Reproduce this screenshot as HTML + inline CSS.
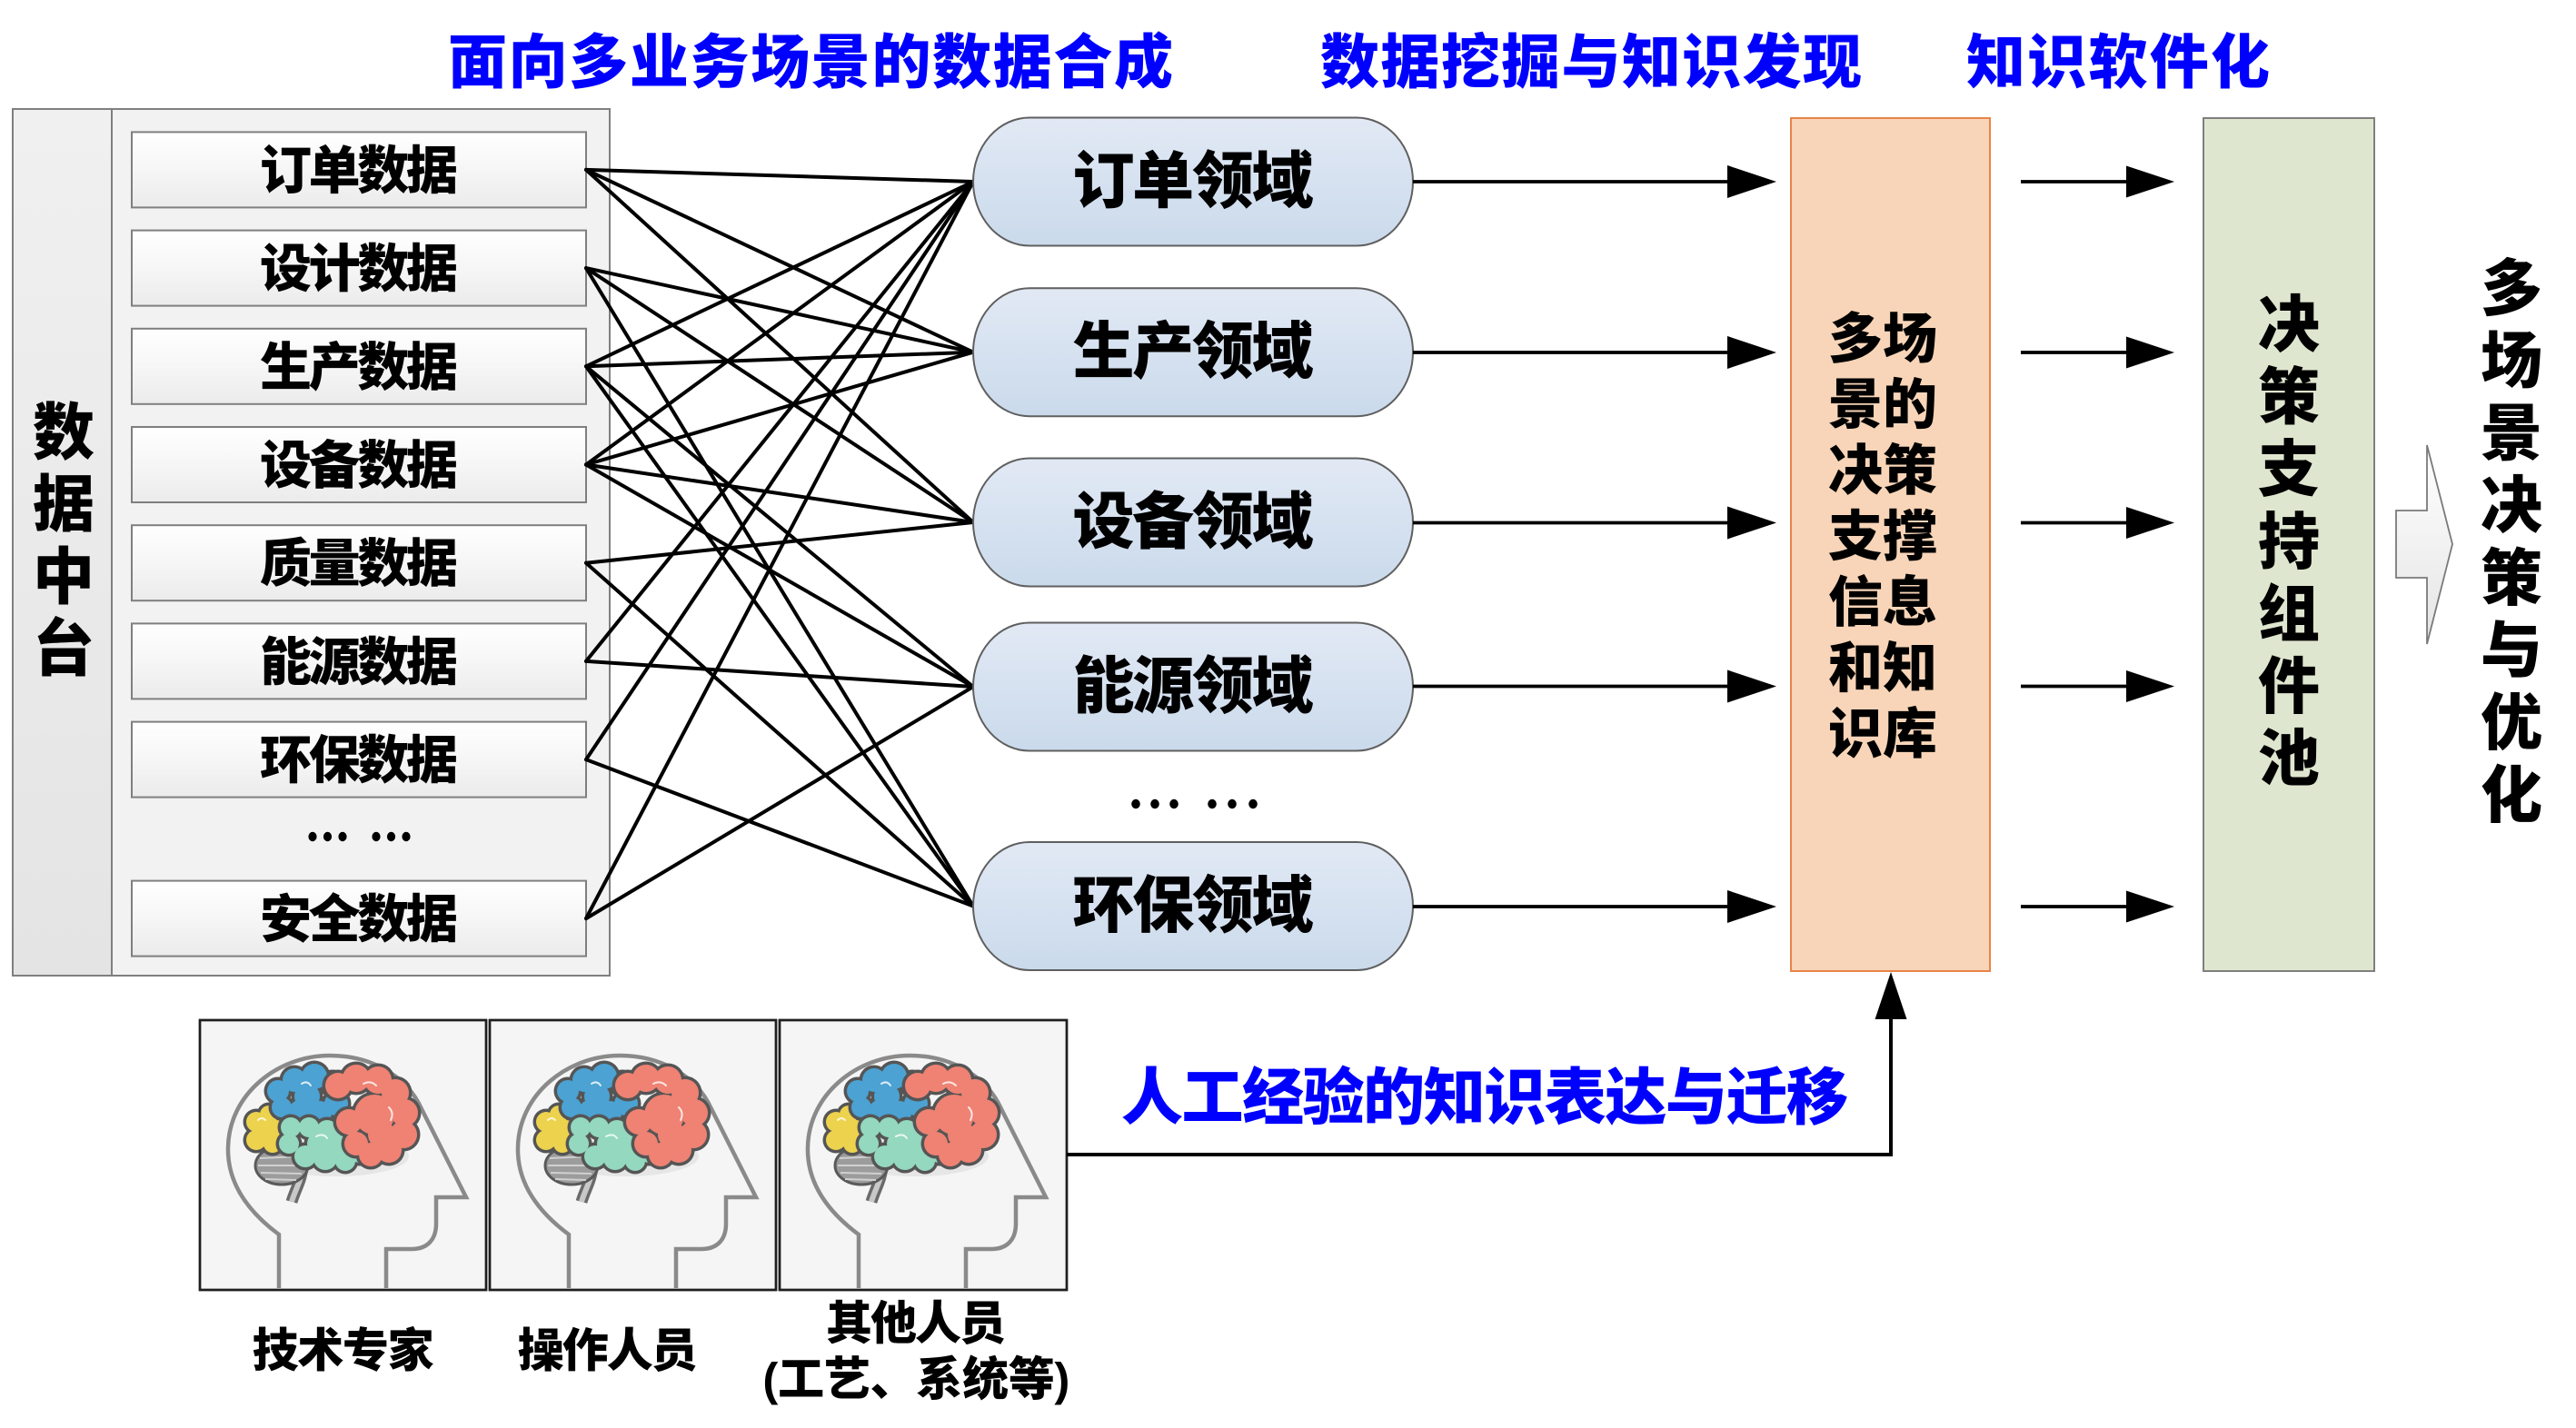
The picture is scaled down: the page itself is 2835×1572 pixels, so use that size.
<!DOCTYPE html>
<html><head><meta charset="utf-8"><style>
html,body{margin:0;padding:0;background:#fff;}
svg{display:block;}
text{font-family:"Liberation Sans","Noto Sans CJK SC",sans-serif;font-weight:900;}
</style></head><body>
<svg width="2835" height="1572" viewBox="0 0 2835 1572" xmlns="http://www.w3.org/2000/svg">
<defs>
<linearGradient id="gBox" x1="0" y1="0" x2="0" y2="1"><stop offset="0" stop-color="#ffffff"/><stop offset="0.5" stop-color="#f6f6f6"/><stop offset="1" stop-color="#ebebeb"/></linearGradient>
<linearGradient id="gCol" x1="0" y1="0" x2="0" y2="1"><stop offset="0" stop-color="#f0f0f0"/><stop offset="1" stop-color="#e4e4e4"/></linearGradient>
<linearGradient id="gCap" x1="0" y1="0" x2="0" y2="1"><stop offset="0" stop-color="#e2e9f5"/><stop offset="1" stop-color="#cadaeb"/></linearGradient>
<linearGradient id="gArr" x1="0" y1="0" x2="0" y2="1"><stop offset="0" stop-color="#ffffff"/><stop offset="1" stop-color="#e4e4e4"/></linearGradient>
<g id="brain">
  <path d="M87,295 L87,236 C52,210 30,178 31,140 C32,82 85,39 143,39 C190,39 224,62 240,90 L293,195 L260,195 L260,224 C260,242 250,252 233,252 L205,252 L205,295" fill="none" stroke="#8a8a8a" stroke-width="4.5"/>
  <ellipse cx="150" cy="150" rx="80" ry="22" fill="#e6e6e6"/>
  <path d="M113,158 C113,175 105,186 101,200" fill="none" stroke="#6a6a6a" stroke-width="13"/>
  <path d="M113,158 C113,175 105,186 101,200" fill="none" stroke="#c8c8c8" stroke-width="6"/>
  <ellipse cx="90" cy="160" rx="29" ry="21" fill="#9c9c9c" stroke="#5a5a5a" stroke-width="3"/>
  <path d="M66,152 L112,150 M64,160 L114,160 M67,168 L112,169 M72,175 L106,176" stroke="#d0d0d0" stroke-width="2" fill="none"/>
  <g fill="#555">
    <circle cx="62" cy="112" r="14.5"/><circle cx="76" cy="104" r="13.5"/><circle cx="84" cy="120" r="13.5"/><circle cx="62" cy="132" r="14.5"/><circle cx="80" cy="136" r="13.5"/><circle cx="70" cy="122" r="13.5"/>
  </g>
  <g fill="#EDD24E">
    <circle cx="62" cy="112" r="11"/><circle cx="76" cy="104" r="10"/><circle cx="84" cy="120" r="10"/><circle cx="62" cy="132" r="11"/><circle cx="80" cy="136" r="10"/><circle cx="70" cy="122" r="10"/>
  </g>
  <g fill="#555">
    <circle cx="86" cy="78" r="15.5"/><circle cx="104" cy="66" r="16.5"/><circle cx="126" cy="62" r="17.5"/><circle cx="146" cy="70" r="15.5"/><circle cx="150" cy="92" r="16.5"/><circle cx="132" cy="102" r="16.5"/><circle cx="110" cy="100" r="15.5"/><circle cx="90" cy="96" r="14.5"/><circle cx="118" cy="84" r="17.5"/>
  </g>
  <g fill="#4BA2D3">
    <circle cx="86" cy="78" r="12"/><circle cx="104" cy="66" r="13"/><circle cx="126" cy="62" r="14"/><circle cx="146" cy="70" r="12"/><circle cx="150" cy="92" r="13"/><circle cx="132" cy="102" r="13"/><circle cx="110" cy="100" r="12"/><circle cx="90" cy="96" r="11"/><circle cx="118" cy="84" r="14"/>
  </g>
  <g fill="#555">
    <circle cx="100" cy="118" r="14.5"/><circle cx="120" cy="118" r="14.5"/><circle cx="140" cy="122" r="15.5"/><circle cx="160" cy="130" r="15.5"/><circle cx="176" cy="145" r="15.5"/><circle cx="160" cy="155" r="14.5"/><circle cx="138" cy="152" r="16.5"/><circle cx="116" cy="150" r="15.5"/><circle cx="98" cy="136" r="14.5"/><circle cx="130" cy="136" r="15.5"/><circle cx="150" cy="140" r="15.5"/>
  </g>
  <g fill="#93D8BF">
    <circle cx="100" cy="118" r="11"/><circle cx="120" cy="118" r="11"/><circle cx="140" cy="122" r="12"/><circle cx="160" cy="130" r="12"/><circle cx="176" cy="145" r="12"/><circle cx="160" cy="155" r="11"/><circle cx="138" cy="152" r="13"/><circle cx="116" cy="150" r="12"/><circle cx="98" cy="136" r="11"/><circle cx="130" cy="136" r="12"/><circle cx="150" cy="140" r="12"/>
  </g>
  <g fill="#555">
    <circle cx="152" cy="72" r="17.5"/><circle cx="172" cy="64" r="18.5"/><circle cx="196" cy="66" r="18.5"/><circle cx="215" cy="80" r="18.5"/><circle cx="225" cy="102" r="18.5"/><circle cx="224" cy="126" r="18.5"/><circle cx="208" cy="143" r="17.5"/><circle cx="188" cy="148" r="16.5"/><circle cx="172" cy="136" r="16.5"/><circle cx="164" cy="112" r="17.5"/><circle cx="192" cy="104" r="25.5"/><circle cx="200" cy="126" r="18.5"/>
  </g>
  <g fill="#EF8273">
    <circle cx="152" cy="72" r="14"/><circle cx="172" cy="64" r="15"/><circle cx="196" cy="66" r="15"/><circle cx="215" cy="80" r="15"/><circle cx="225" cy="102" r="15"/><circle cx="224" cy="126" r="15"/><circle cx="208" cy="143" r="14"/><circle cx="188" cy="148" r="13"/><circle cx="172" cy="136" r="13"/><circle cx="164" cy="112" r="14"/><circle cx="192" cy="104" r="22"/><circle cx="200" cy="126" r="15"/>
  </g>
  <g fill="none" stroke="#ffffff" stroke-width="2" stroke-linecap="round" opacity="0.8">
    <path d="M180,70 q8,-4 14,2"/><path d="M208,96 q6,6 2,14"/><path d="M112,70 q6,-4 10,2"/><path d="M128,128 q8,-4 12,2"/><path d="M64,110 q4,-4 8,0"/>
  </g>
</g>
</defs>

<!-- Titles -->
<text x="493" y="91" font-size="65" fill="#0000FF" textLength="798" lengthAdjust="spacing">面向多业务场景的数据合成</text>
<text x="1453" y="91" font-size="65" fill="#0000FF" textLength="596" lengthAdjust="spacing">数据挖掘与知识发现</text>
<text x="2164" y="91" font-size="65" fill="#0000FF" textLength="334" lengthAdjust="spacing">知识软件化</text>

<!-- Data panel -->
<rect x="14" y="120" width="657" height="954" fill="#f2f2f2" stroke="#7f7f7f" stroke-width="2"/>
<rect x="14" y="120" width="109" height="954" fill="url(#gCol)" stroke="#7f7f7f" stroke-width="2"/>
<g font-size="68" text-anchor="middle" fill="#000">
  <text x="70" y="500">数</text><text x="70" y="579">据</text><text x="70" y="659">中</text><text x="70" y="738">台</text>
</g>
<g fill="url(#gBox)" stroke="#7f7f7f" stroke-width="2">
  <rect x="145" y="145.4" width="500" height="83"/>
  <rect x="145" y="253.6" width="500" height="83"/>
  <rect x="145" y="361.8" width="500" height="83"/>
  <rect x="145" y="470" width="500" height="83"/>
  <rect x="145" y="578.2" width="500" height="83"/>
  <rect x="145" y="686.4" width="500" height="83"/>
  <rect x="145" y="794.6" width="500" height="83"/>
  <rect x="145" y="969.6" width="500" height="83"/>
</g>
<g font-size="57" text-anchor="middle" fill="#000" lengthAdjust="spacing">
  <text x="395" y="207.4" textLength="218">订单数据</text>
  <text x="395" y="315.6" textLength="218">设计数据</text>
  <text x="395" y="423.8" textLength="218">生产数据</text>
  <text x="395" y="532" textLength="218">设备数据</text>
  <text x="395" y="640.2" textLength="218">质量数据</text>
  <text x="395" y="748.4" textLength="218">能源数据</text>
  <text x="395" y="856.6" textLength="218">环保数据</text>
  <text x="395" y="1031.6" textLength="218">安全数据</text>
</g>
<g fill="#000">
  <ellipse cx="344" cy="921" rx="4.6" ry="5.2"/><ellipse cx="360.5" cy="921" rx="4.6" ry="5.2"/><ellipse cx="377" cy="921" rx="4.6" ry="5.2"/>
  <ellipse cx="414" cy="921" rx="4.6" ry="5.2"/><ellipse cx="430.5" cy="921" rx="4.6" ry="5.2"/><ellipse cx="447" cy="921" rx="4.6" ry="5.2"/>
</g>

<!-- Connections -->
<g stroke="#000" stroke-width="4" stroke-linecap="round">
  <line x1="645" y1="186.9" x2="1071" y2="200"/>
  <line x1="645" y1="186.9" x2="1071" y2="387.7"/>
  <line x1="645" y1="186.9" x2="1071" y2="575"/>
  <line x1="645" y1="295.1" x2="1071" y2="387.7"/>
  <line x1="645" y1="295.1" x2="1071" y2="575"/>
  <line x1="645" y1="295.1" x2="1071" y2="997.5"/>
  <line x1="645" y1="403.3" x2="1071" y2="200"/>
  <line x1="645" y1="403.3" x2="1071" y2="387.7"/>
  <line x1="645" y1="403.3" x2="1071" y2="756"/>
  <line x1="645" y1="403.3" x2="1071" y2="997.5"/>
  <line x1="645" y1="511.5" x2="1071" y2="200"/>
  <line x1="645" y1="511.5" x2="1071" y2="387.7"/>
  <line x1="645" y1="511.5" x2="1071" y2="575"/>
  <line x1="645" y1="511.5" x2="1071" y2="756"/>
  <line x1="645" y1="619.7" x2="1071" y2="575"/>
  <line x1="645" y1="619.7" x2="1071" y2="997.5"/>
  <line x1="645" y1="727.9" x2="1071" y2="200"/>
  <line x1="645" y1="727.9" x2="1071" y2="756"/>
  <line x1="645" y1="836.1" x2="1071" y2="200"/>
  <line x1="645" y1="836.1" x2="1071" y2="997.5"/>
  <line x1="645" y1="1011.1" x2="1071" y2="200"/>
  <line x1="645" y1="1011.1" x2="1071" y2="756"/>
</g>

<!-- Capsules -->
<g fill="url(#gCap)" stroke="#5f5f5f" stroke-width="2">
  <rect x="1071" y="129.5" width="484" height="141" rx="62" ry="70.5"/>
  <rect x="1071" y="317.2" width="484" height="141" rx="62" ry="70.5"/>
  <rect x="1071" y="504.5" width="484" height="141" rx="62" ry="70.5"/>
  <rect x="1071" y="685.5" width="484" height="141" rx="62" ry="70.5"/>
  <rect x="1071" y="927" width="484" height="141" rx="62" ry="70.5"/>
</g>
<g font-size="68" text-anchor="middle" fill="#000" lengthAdjust="spacing">
  <text x="1313" y="223" textLength="265">订单领域</text>
  <text x="1313" y="410.7" textLength="265">生产领域</text>
  <text x="1313" y="598" textLength="265">设备领域</text>
  <text x="1313" y="779" textLength="265">能源领域</text>
  <text x="1313" y="1020.5" textLength="265">环保领域</text>
</g>
<g fill="#000">
  <ellipse cx="1250" cy="885" rx="4.8" ry="5.2"/><ellipse cx="1271" cy="885" rx="4.8" ry="5.2"/><ellipse cx="1292" cy="885" rx="4.8" ry="5.2"/>
  <ellipse cx="1334" cy="885" rx="4.8" ry="5.2"/><ellipse cx="1356" cy="885" rx="4.8" ry="5.2"/><ellipse cx="1379" cy="885" rx="4.8" ry="5.2"/>
</g>

<!-- Arrows column 1 -->
<g stroke="#000" stroke-width="3.8">
  <line x1="1555" y1="200" x2="1905" y2="200"/>
  <line x1="1555" y1="388" x2="1905" y2="388"/>
  <line x1="1555" y1="575.5" x2="1905" y2="575.5"/>
  <line x1="1555" y1="755.5" x2="1905" y2="755.5"/>
  <line x1="1555" y1="998" x2="1905" y2="998"/>
</g>
<g fill="#000">
  <polygon points="1901,182 1955,200 1901,218"/>
  <polygon points="1901,370 1955,388 1901,406"/>
  <polygon points="1901,557.5 1955,575.5 1901,593.5"/>
  <polygon points="1901,737.5 1955,755.5 1901,773.5"/>
  <polygon points="1901,980 1955,998 1901,1016"/>
</g>

<!-- Orange box -->
<rect x="1971" y="130" width="219" height="939" fill="#F8D5B8" stroke="#E8834A" stroke-width="2"/>
<g font-size="60" text-anchor="middle" fill="#000">
  <text x="2072" y="394">多场</text>
  <text x="2072" y="466.5">景的</text>
  <text x="2072" y="539">决策</text>
  <text x="2072" y="611.5">支撑</text>
  <text x="2072" y="684">信息</text>
  <text x="2072" y="756.5">和知</text>
  <text x="2072" y="829">识库</text>
</g>

<!-- Arrows column 2 -->
<g stroke="#000" stroke-width="3.8">
  <line x1="2224" y1="200" x2="2344" y2="200"/>
  <line x1="2224" y1="388" x2="2344" y2="388"/>
  <line x1="2224" y1="575.5" x2="2344" y2="575.5"/>
  <line x1="2224" y1="755.5" x2="2344" y2="755.5"/>
  <line x1="2224" y1="998" x2="2344" y2="998"/>
</g>
<g fill="#000">
  <polygon points="2340,182.5 2393,200 2340,217.5"/>
  <polygon points="2340,370.5 2393,388 2340,405.5"/>
  <polygon points="2340,558 2393,575.5 2340,593"/>
  <polygon points="2340,738 2393,755.5 2340,773"/>
  <polygon points="2340,980.5 2393,998 2340,1015.5"/>
</g>

<!-- Green box -->
<rect x="2425" y="130" width="188" height="939" fill="#DFE6CF" stroke="#7f7f7f" stroke-width="2"/>
<g font-size="68" text-anchor="middle" fill="#000">
  <text x="2519" y="381.5">决</text>
  <text x="2519" y="461.1">策</text>
  <text x="2519" y="540.7">支</text>
  <text x="2519" y="620.3">持</text>
  <text x="2519" y="699.9">组</text>
  <text x="2519" y="779.5">件</text>
  <text x="2519" y="859.1">池</text>
</g>

<!-- Block arrow -->
<polygon points="2637,562 2671,562 2671,490 2699,599 2671,709 2671,636 2637,636" fill="url(#gArr)" stroke="#7a7a7a" stroke-width="1.8"/>

<!-- Right vertical text -->
<g font-size="68" text-anchor="middle" fill="#000">
  <text x="2764" y="341.5">多</text>
  <text x="2764" y="421.2">场</text>
  <text x="2764" y="500.9">景</text>
  <text x="2764" y="580.6">决</text>
  <text x="2764" y="660.3">策</text>
  <text x="2764" y="740">与</text>
  <text x="2764" y="819.7">优</text>
  <text x="2764" y="899.4">化</text>
</g>

<!-- Brain frames -->
<rect x="220" y="1123" width="315" height="297" fill="#f5f5f5" stroke="#1f1f1f" stroke-width="2.5"/>
<rect x="539" y="1123" width="315" height="297" fill="#f5f5f5" stroke="#1f1f1f" stroke-width="2.5"/>
<rect x="858" y="1123" width="316" height="297" fill="#f5f5f5" stroke="#1f1f1f" stroke-width="2.5"/>
<use href="#brain" x="220" y="1123"/>
<use href="#brain" x="539" y="1123"/>
<use href="#brain" x="858" y="1123"/>
<rect x="220" y="1123" width="315" height="297" fill="none" stroke="#1f1f1f" stroke-width="2.5"/>
<rect x="539" y="1123" width="315" height="297" fill="none" stroke="#1f1f1f" stroke-width="2.5"/>
<rect x="858" y="1123" width="316" height="297" fill="none" stroke="#1f1f1f" stroke-width="2.5"/>

<!-- Feedback connector -->
<polyline points="1174,1271 2081,1271 2081,1118" fill="none" stroke="#000" stroke-width="4"/>
<polygon points="2063.5,1122 2081,1070 2098.5,1122" fill="#000"/>
<text x="1234" y="1232" font-size="68" fill="#0000FF" textLength="800" lengthAdjust="spacing">人工经验的知识表达与迁移</text>

<!-- Bottom labels -->
<g font-size="51" text-anchor="middle" fill="#000" lengthAdjust="spacing">
  <text x="377.6" y="1504.5" textLength="200">技术专家</text>
  <text x="668.7" y="1504.5" textLength="198">操作人员</text>
  <text x="1008" y="1474.5" textLength="198">其他人员</text>
  <text x="1008.4" y="1536" textLength="338">(工艺、系统等)</text>
</g>
</svg>
</body></html>
